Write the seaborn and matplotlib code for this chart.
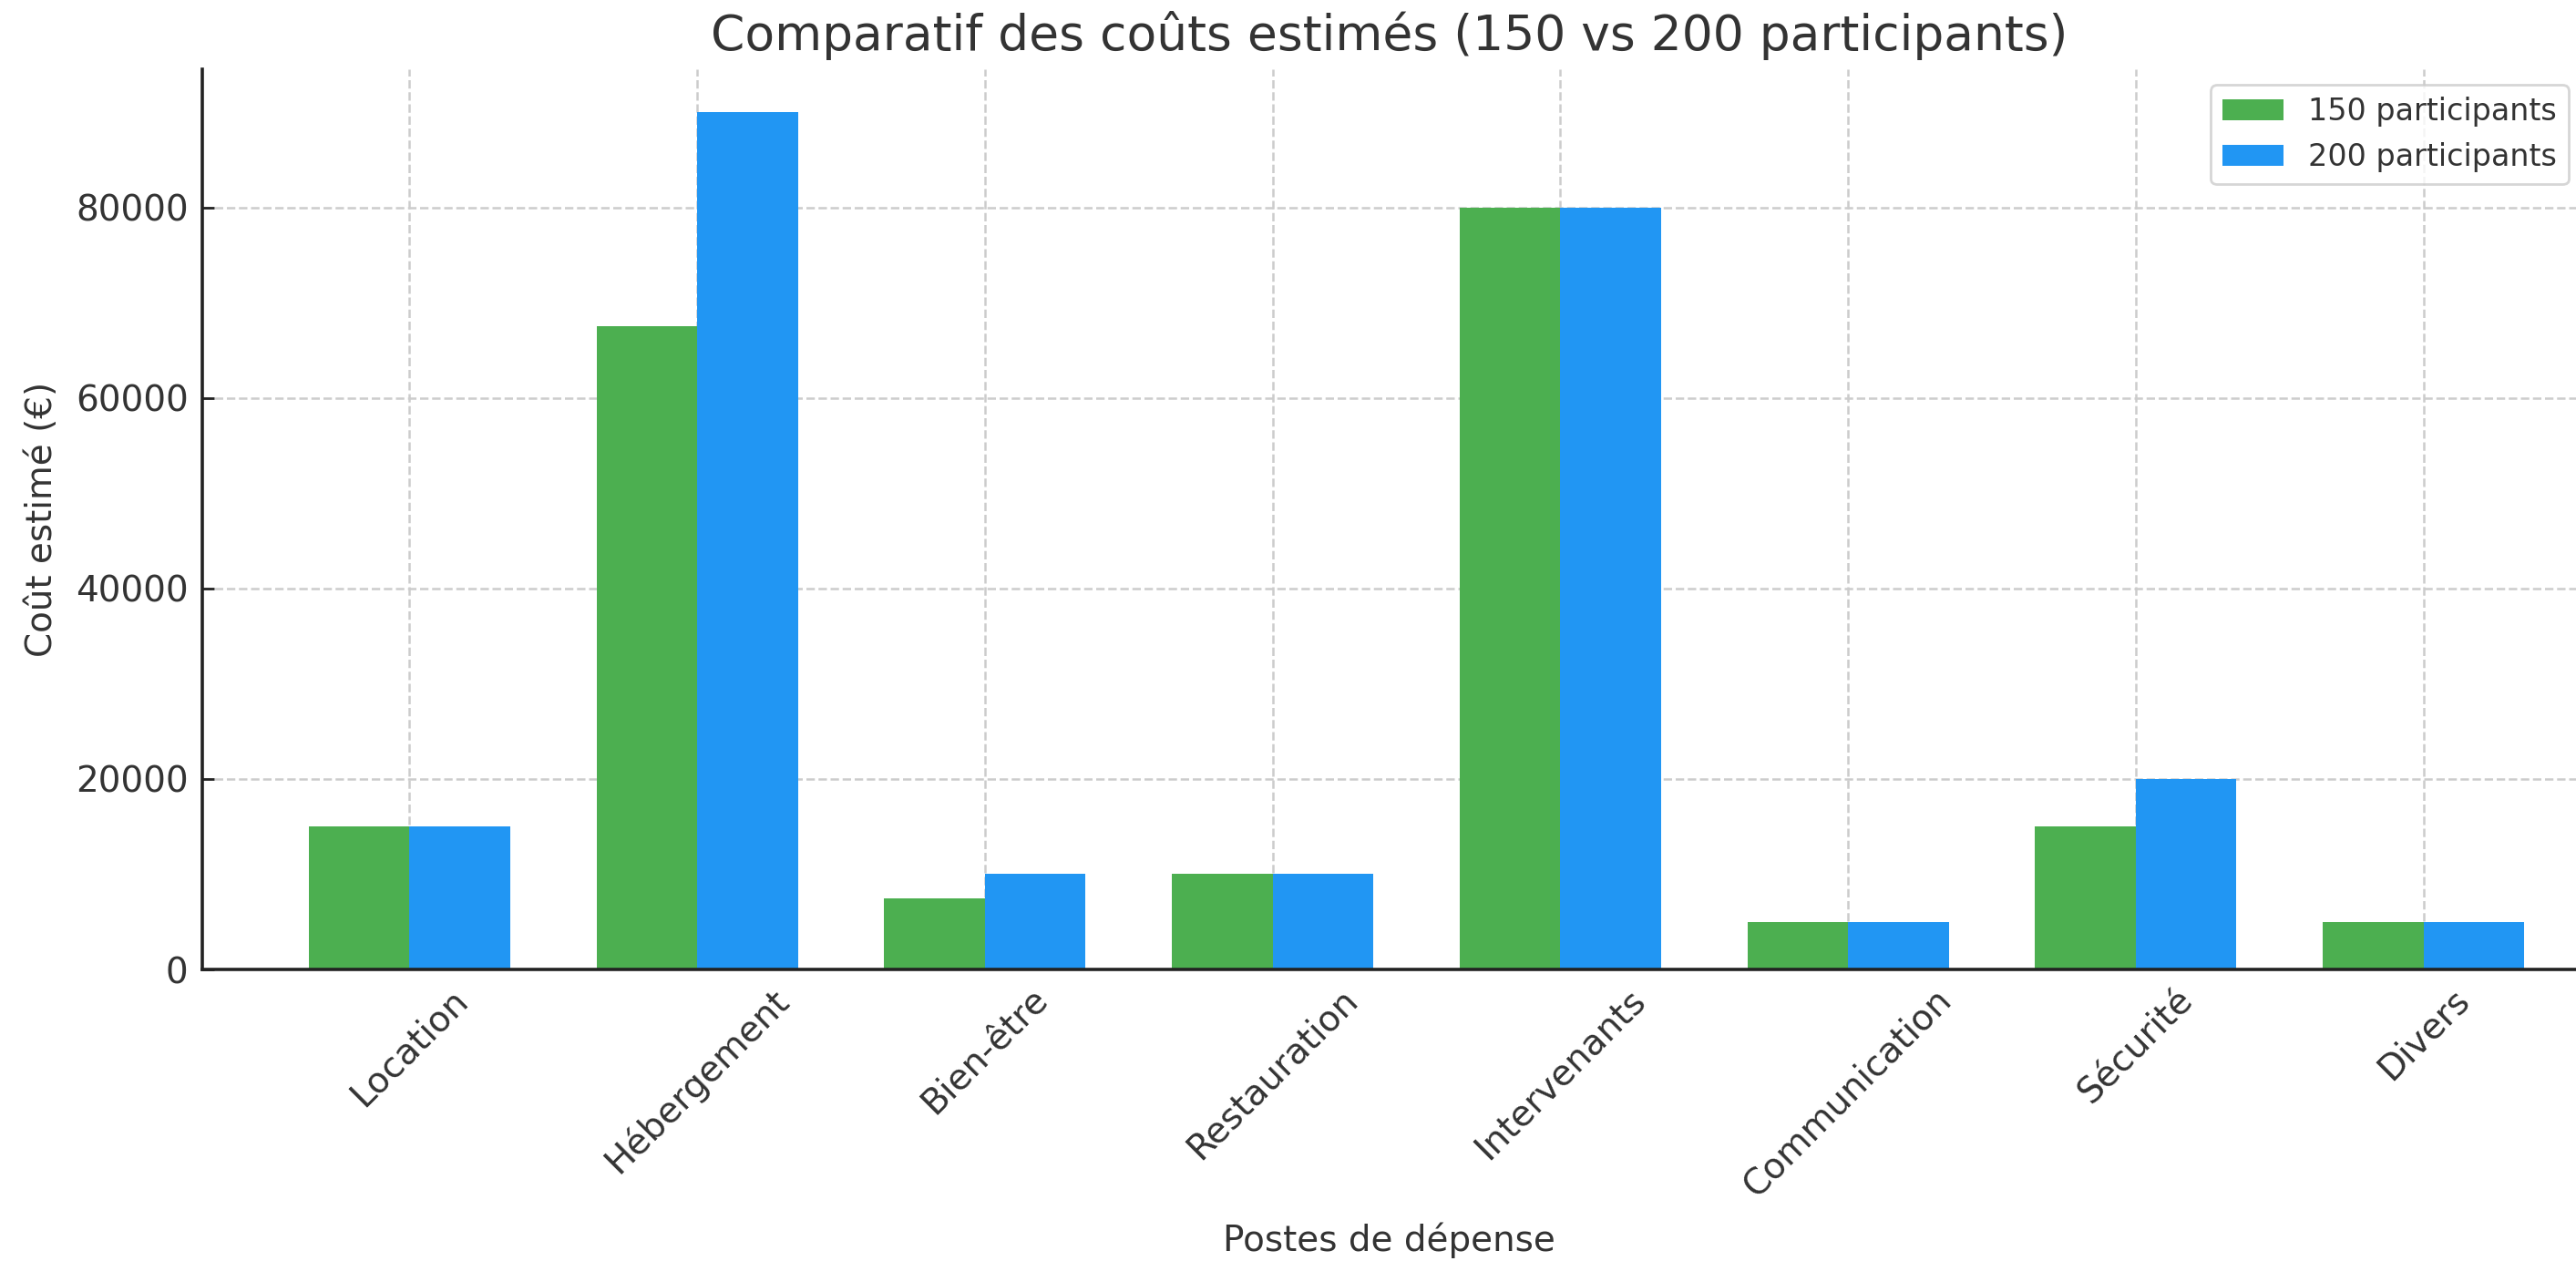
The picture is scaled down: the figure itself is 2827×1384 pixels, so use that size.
import matplotlib
matplotlib.use("Agg")
import matplotlib.pyplot as plt
import seaborn as sns
import pandas as pd

categories = ["Location", "Hébergement", "Bien-être", "Restauration",
              "Intervenants", "Communication", "Sécurité", "Divers"]
costs_150 = [15000, 67500, 7500, 10000, 80000, 5000, 15000, 5000]
costs_200 = [15000, 90000, 10000, 10000, 80000, 5000, 20000, 5000]
series_names = ["150 participants", "200 participants"]
colors = ["#4CAF50", "#2196F3"]

df = pd.DataFrame({
    "Poste": categories * 2,
    "Coût": costs_150 + costs_200,
    "Groupe": [series_names[0]] * len(categories) + [series_names[1]] * len(categories),
})

sns.set_theme(style="white")
plt.rcParams["font.family"] = ["DejaVu Sans"]
plt.rcParams["text.color"] = "#333333"
plt.rcParams["axes.labelcolor"] = "#333333"
plt.rcParams["xtick.color"] = "#333333"
plt.rcParams["ytick.color"] = "#333333"

W, H = 2827, 1384
fig = plt.figure(figsize=(W / 200, H / 200), dpi=200)
ax_left, ax_right, ax_top, ax_bottom = 222, W, 76, 1064
ax = fig.add_axes([ax_left / W, 1 - ax_bottom / H, (ax_right - ax_left) / W,
                   (ax_bottom - ax_top) / H])

sns.barplot(data=df, x="Poste", y="Coût", hue="Groupe", palette=colors,
            width=0.7, saturation=1, ax=ax, linewidth=0)

ax.set_axisbelow(True)
ax.grid(True, linestyle="--", color="#cccccc", linewidth=0.9)
for s in ["top", "right"]:
    ax.spines[s].set_visible(False)
for s in ["left", "bottom"]:
    ax.spines[s].set_color("#222222")
    ax.spines[s].set_linewidth(1.3)
ax.tick_params(axis="both", direction="in", length=4.5, width=1.0,
               labelsize=14, color="#222222", left=True, bottom=True, pad=5)
ax.tick_params(axis="y", pad=5.5)
ax.set_xlim(-0.72, 7.53)
ax.set_ylim(0, 94500)
ax.set_yticks([0, 20000, 40000, 60000, 80000])
plt.setp(ax.get_xticklabels(), rotation=45, ha="center")

ax.set_title("Comparatif des coûts estimés (150 vs 200 participants)",
             fontsize=19.25, color="#333333", pad=7.5)
ax.set_xlabel("Postes de dépense", fontsize=14, labelpad=7.5)
ax.set_ylabel("Coût estimé (€)", fontsize=14, labelpad=6.5)

lx = (2819 - ax_left) / (ax_right - ax_left)
ly = (ax_bottom - 93) / (ax_bottom - ax_top)
leg = ax.legend(loc="upper right", bbox_to_anchor=(lx, ly), borderaxespad=0,
                fontsize=12, frameon=True, title=None)
leg.get_frame().set_edgecolor("#cccccc")

fig.savefig("out.png", dpi=200)
